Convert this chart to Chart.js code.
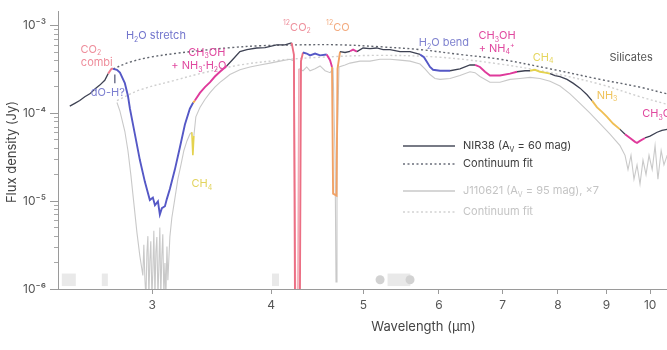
<!DOCTYPE html>
<html><head><meta charset="utf-8">
<script src="https://cdn.jsdelivr.net/npm/chart.js@4.4.1/dist/chart.umd.min.js"></script>
<style>
html,body{margin:0;padding:0;overflow:hidden;background:#fff;width:667px;height:350px}
#wrap{width:792px;height:350px}
</style></head>
<body><div id="wrap"><canvas id="c" width="792" height="350"></canvas></div>
<script>
// ---------------- DATA ----------------
const nir38Wave = [
 2.458,2.488,2.518,2.549,2.580,2.612,2.643,2.675,
 2.697,2.719,2.730,2.755,2.775,2.808,2.829,2.843,
 2.877,2.912,2.948,2.983,3.005,3.020,3.042,3.056,
 3.071,3.094,3.109,3.131,3.169,3.208,3.247,3.286,
 3.313,3.326,3.367,3.408,3.449,3.491,3.534,3.592,
 3.647,3.709,3.772,3.862,3.941,4.053,4.136,4.203,
 4.226,4.237,4.288,4.299,4.320,4.359,4.394,4.448,
 4.502,4.575,4.612,4.634,4.646,4.685,4.696,4.725,
 4.782,4.840,4.876,4.922,4.995,5.080,5.163,5.243,
 5.332,5.462,5.596,5.733,5.788,5.830,5.873,5.916,
 6.017,6.164,6.314,6.469,6.548,6.627,6.708,6.789,
 6.956,7.126,7.248,7.389,7.479,7.570,7.662,7.755,
 7.850,7.945,8.042,8.179,8.299,8.440,8.585,8.689,
 8.795,8.902,9.010,9.142,9.298,9.411,9.525,9.641,
 9.688,9.758,9.877,9.997,10.17,10.29,10.42,10.60];
const nir38Flux = [
 1.21e-4,1.30e-4,1.40e-4,1.55e-4,1.67e-4,1.90e-4,2.10e-4,2.38e-4,
 2.84e-4,3.22e-4,3.22e-4,3.14e-4,2.91e-4,2.21e-4,1.59e-4,1.13e-4,
 5.80e-5,2.94e-5,1.65e-5,1.03e-5,1.10e-5,9.0e-6,9.95e-6,7.05e-6,
 8.34e-6,8.77e-6,1.07e-5,1.38e-5,2.29e-5,4.11e-5,7.46e-5,1.13e-4,
 1.33e-4,1.40e-4,1.71e-4,1.99e-4,2.26e-4,2.63e-4,2.98e-4,3.47e-4,
 4.14e-4,5.06e-4,5.33e-4,5.56e-4,5.60e-4,6.04e-4,6.04e-4,6.35e-4,
 4.69e-4,8e-7,8e-7,3.94e-4,4.94e-4,4.81e-4,4.58e-4,4.81e-4,
 4.58e-4,4.69e-4,4.04e-4,3.38e-4,1.22e-5,1.16e-5,3.22e-4,5.06e-4,
 4.94e-4,5.10e-4,5.33e-4,5.06e-4,5.56e-4,5.46e-4,5.56e-4,5.33e-4,
 5.33e-4,5.06e-4,5.06e-4,4.69e-4,4.36e-4,3.84e-4,3.38e-4,3.14e-4,
 3.06e-4,3.06e-4,3.22e-4,3.56e-4,3.56e-4,3.38e-4,2.98e-4,2.70e-4,
 2.70e-4,2.84e-4,2.98e-4,3.06e-4,3.06e-4,3.14e-4,2.98e-4,2.91e-4,
 2.84e-4,2.70e-4,2.63e-4,2.44e-4,2.21e-4,1.94e-4,1.63e-4,1.40e-4,
 1.17e-4,1.04e-4,9.13e-5,7.66e-5,6.58e-5,5.80e-5,5.25e-5,4.74e-5,
 4.62e-5,4.86e-5,5.25e-5,5.52e-5,6.10e-5,6.42e-5,6.58e-5,6.80e-5];

const j110621Wave = [
 2.755,2.775,2.808,2.829,2.849,2.870,2.891,2.912,
 2.933,2.940,2.948,2.955,2.962,2.969,2.976,2.983,
 2.990,2.998,3.005,3.012,3.020,3.027,3.034,3.042,
 3.049,3.056,3.063,3.071,3.078,3.086,3.094,3.101,
 3.109,3.116,3.131,3.146,3.169,3.192,3.216,3.239,
 3.263,3.286,3.302,3.310,3.318,3.334,3.367,3.408,
 3.449,3.491,3.534,3.577,3.620,3.709,3.800,3.893,
 3.988,4.086,4.186,4.226,4.242,4.267,4.278,4.320,
 4.359,4.394,4.448,4.502,4.557,4.612,4.646,4.668,
 4.679,4.690,4.713,4.782,4.840,4.959,5.080,5.205,
 5.332,5.462,5.596,5.733,5.802,5.873,5.944,6.017,
 6.164,6.314,6.469,6.548,6.627,6.789,6.956,7.126,
 7.300,7.479,7.662,7.850,8.042,8.239,8.440,8.647,
 8.859,9.075,9.298,9.411,9.479,9.548,9.617,9.688,
 9.758,9.829,9.901,9.973,10.05,10.12,10.19,10.27,
 10.34,10.42,10.60];
const j110621Flux = [
 1.33e-4,1.06e-4,6.26e-5,3.78e-5,2.01e-5,9.46e-6,4.44e-6,2.37e-6,
 1.43e-6,3.2e-6,1.26e-6,8e-7,2.6e-6,4.0e-6,8e-7,2.09e-6,
 3.5e-6,8e-7,1.62e-6,4.6e-6,8e-7,2.68e-6,3.9e-6,8e-7,
 1.84e-6,5.0e-6,8e-7,2.37e-6,4.2e-6,8e-7,1.98e-6,8e-7,
 3.04e-6,1.26e-6,3.92e-6,6.48e-6,1.07e-5,1.78e-5,2.59e-5,3.78e-5,
 4.86e-5,5.80e-5,6.10e-5,3.33e-5,5.52e-5,9.13e-5,1.17e-4,1.44e-4,
 1.71e-4,1.99e-4,2.26e-4,2.50e-4,2.77e-4,3.14e-4,3.38e-4,3.56e-4,
 3.74e-4,3.94e-4,4.14e-4,3.94e-4,8e-7,8e-7,3.22e-4,3.06e-4,
 3.38e-4,3.06e-4,3.22e-4,3.47e-4,3.06e-4,2.91e-4,3.22e-4,3.33e-5,
 1.20e-6,3.33e-5,3.38e-4,3.56e-4,3.74e-4,3.94e-4,3.94e-4,4.14e-4,
 4.14e-4,4.04e-4,3.94e-4,3.65e-4,3.22e-4,2.77e-4,2.50e-4,2.44e-4,
 2.50e-4,2.70e-4,2.98e-4,2.91e-4,2.63e-4,2.26e-4,2.26e-4,2.44e-4,
 2.50e-4,2.57e-4,2.50e-4,2.32e-4,2.05e-4,1.67e-4,1.30e-4,1.01e-4,
 7.66e-5,5.80e-5,4.29e-5,3.33e-5,2.29e-5,3.33e-5,1.78e-5,2.59e-5,
 1.57e-5,2.94e-5,2.01e-5,3.33e-5,2.29e-5,4.29e-5,1.78e-5,3.78e-5,
 2.59e-5,3.33e-5,3.60e-5];

const nirContWave = [2.730,2.843,2.983,3.169,3.367,3.620,3.893,4.288,4.725,5.205,5.733,6.314,6.956,7.850,8.859,9.758,10.42,11.0];
const nirContFlux = [3.22e-4,3.84e-4,4.36e-4,4.81e-4,5.19e-4,5.60e-4,5.89e-4,6.04e-4,6.04e-4,5.74e-4,5.33e-4,4.69e-4,4.14e-4,3.22e-4,2.44e-4,1.99e-4,1.67e-4,1.48e-4];
const jContWave = [2.755,2.912,3.169,3.367,3.709,4.086,4.502,5.205,6.017,6.956,7.850,8.859,9.758,10.42,11.0];
const jContFlux = [1.40e-4,1.85e-4,2.38e-4,2.84e-4,3.56e-4,4.04e-4,4.36e-4,4.58e-4,4.36e-4,3.65e-4,2.91e-4,2.15e-4,1.55e-4,1.27e-4,1.10e-4];

// absorption bands highlighted on each spectrum (wavelength ranges, µm)
const nirBandStart = [2.695,2.730,3.300,3.320,4.190,4.330,4.585,4.625,4.850,5.740,6.540,7.460,8.690,9.420];
const nirBandEnd   = [2.730,3.300,3.320,3.600,4.330,4.585,4.625,4.715,4.910,6.180,7.260,7.860,9.240,9.900];
const nirBandName  = ['CO2combi','H2O','CH4a','CH3OH','CO2','H2O','CH3OH','CO','CH3OH','H2O','CH3OH','CH4','NH3','CH3OH'];
const jBandStart = [3.300,4.210];
const jBandEnd   = [3.320,4.290];
const jBandName  = ['CH4','CO2light'];

// data-gap markers along the bottom
const gapStart = [2.411,2.656,4.008,5.300];
const gapEnd   = [2.494,2.695,4.076,5.600];
const gapDots  = [5.205,5.596];
const gapLow = 1.08e-6, gapHigh = 1.50e-6;

// annotations
const labelText = ['H_{2}O stretch','CO_{2}','combi','dO-H?','CH_{3}OH','+ NH_{3}\u00b7H_{2}O','CH_{4}','^{12}CO_{2}','^{12}CO','H_{2}O bend','CH_{3}OH','+ NH_{4}^{+}','CH_{4}','Silicates','NH_{3}','CH_{3}OH'];
const labelWave = [3.027,2.587,2.624,2.695,3.424,3.359,3.383,4.257,4.700,6.074,6.906,6.900,7.720,9.550,9.010,9.810];
const labelFlux = [7.58e-4,5.33e-4,3.74e-4,1.71e-4,4.94e-4,3.47e-4,1.57e-5,9.5e-4,9.5e-4,6.35e-4,7.58e-4,5.46e-4,4.36e-4,4.36e-4,1.59e-4,9.85e-5];
const markWave = [2.741], markTop = [2.77e-4], markBottom = [2.21e-4];

// axes
const xTickValues = [3,4,5,6,7,8,9,10];
const yMajorTicks = [1e-6,1e-5,1e-4,1e-3];
const yTickLabels = ['10\u207b\u2076','10\u207b\u2075','10\u207b\u2074','10\u207b\u00b3'];
const X_MIN = 2.389, X_MAX = 13.99, Y_MIN = 1e-6, Y_MAX = 1.459e-3;

// ---------------- STYLE ----------------
const FONT = "Inter, 'Noto Sans', sans-serif";
const BASE = '#3e4253', GREY = '#c9c9c9';
const bandColors = {CO2combi:'#ec7a8e',H2O:'#5558c6',CH4a:'#f2a640',CH3OH:'#df3a9b',CO2:'#ec6f84',CO:'#f1a266',CH4:'#e4d24e',NH3:'#f0bf55',CO2light:'#f2a9b4'};
const labelColor = ['#7174cc','#ee8d9b','#ee8d9b','#7b7ed0','#e0489f','#e0489f','#e2d45e','#ee909c','#f3ab7f','#7f82cf','#e0489f','#e0489f','#e5d65e','#555555','#efc35c','#e0489f'];
const labelAlign = ['center','center','center','center','center','center','center','center','center','center','center','center','center','center','center','left'];

Chart.defaults.font.family = FONT;

const toXY = (w,f) => w.map((x,i)=>({x:x,y:f[i]}));
function bandOf(starts, ends, names, m){ for(let i=0;i<starts.length;i++){ if(m>=starts[i] && m<ends[i]) return names[i]; } return null; }
function segColor(starts, ends, names, base){ return c => { const b = bandOf(starts, ends, names, (c.p0.parsed.x+c.p1.parsed.x)/2); return b ? bandColors[b] : base; }; }
function segWidth(starts, ends, names, w0, w1){ return c => bandOf(starts, ends, names, (c.p0.parsed.x+c.p1.parsed.x)/2) ? w1 : w0; }

function drawRich(ctx, str, x, y, size, color, align){
  const parts = []; const re = /_\{([^}]*)\}|\^\{([^}]*)\}|([^_^]+)/g; let m;
  while((m = re.exec(str))){ if(m[1]!==undefined) parts.push({t:m[1],k:'sub'}); else if(m[2]!==undefined) parts.push({t:m[2],k:'sup'}); else parts.push({t:m[3],k:'n'}); }
  const fs = k => k==='n' ? size : Math.round(size*0.68);
  let total = 0;
  parts.forEach(p=>{ ctx.font = fs(p.k)+'px '+FONT; p.w = ctx.measureText(p.t).width; total += p.w; });
  let cx = align==='center' ? x-total/2 : (align==='right' ? x-total : x);
  ctx.fillStyle = color; ctx.textBaseline = 'middle'; ctx.textAlign = 'left';
  parts.forEach(p=>{ ctx.font = fs(p.k)+'px '+FONT; const dy = p.k==='sub' ? size*0.32 : (p.k==='sup' ? -size*0.38 : 0); ctx.fillText(p.t, cx, y+dy); cx += p.w; });
}

const decor = {
  id:'decor',
  beforeDatasetsDraw(chart){
    const {ctx, scales:{x,y}} = chart;
    ctx.save();
    ctx.fillStyle = '#e9e9e9';
    for(let i=0;i<gapStart.length;i++){
      const x0 = x.getPixelForValue(gapStart[i]), x1 = x.getPixelForValue(gapEnd[i]);
      const y0 = y.getPixelForValue(gapHigh), y1 = y.getPixelForValue(gapLow);
      ctx.fillRect(x0, y0, x1-x0, y1-y0);
    }
    ctx.fillStyle = '#d2d2d2';
    gapDots.forEach(w=>{ ctx.beginPath(); ctx.arc(x.getPixelForValue(w), y.getPixelForValue(Math.sqrt(gapLow*gapHigh)), 4.5, 0, Math.PI*2); ctx.fill(); });
    ctx.restore();
  },
  afterDatasetsDraw(chart){
    const {ctx, scales:{x,y}} = chart;
    ctx.save();
    for(let i=0;i<labelText.length;i++){
      drawRich(ctx, labelText[i], x.getPixelForValue(labelWave[i]), y.getPixelForValue(labelFlux[i]), 11, labelColor[i], labelAlign[i]);
    }
    ctx.strokeStyle = '#4d5170'; ctx.lineWidth = 1.2;
    for(let i=0;i<markWave.length;i++){
      const px = x.getPixelForValue(markWave[i]);
      ctx.beginPath(); ctx.moveTo(px, y.getPixelForValue(markTop[i])); ctx.lineTo(px, y.getPixelForValue(markBottom[i])); ctx.stroke();
    }
    // y axis title
    ctx.translate(12, 152); ctx.rotate(-Math.PI/2);
    ctx.font = '13px '+FONT; ctx.fillStyle = '#444'; ctx.textAlign = 'center'; ctx.textBaseline = 'middle';
    ctx.fillText('Flux density (Jy)', 0, 0);
    ctx.restore();
  },
  afterDraw(chart){
    const ctx = chart.ctx;
    const rows = [
      {y:146, c:'#4a4e5c', d:[], t:'NIR38 (A_{V} = 60 mag)', tc:'#3c3c3c'},
      {y:164, c:'#6a6e7a', d:[2,2.5], t:'Continuum fit', tc:'#3c3c3c'},
      {y:191, c:'#c8c8c8', d:[], t:'J110621 (A_{V} = 95 mag), \u00d77', tc:'#c4c4c4'},
      {y:212, c:'#d2d2d2', d:[2,2.5], t:'Continuum fit', tc:'#c4c4c4'}
    ];
    ctx.save();
    rows.forEach(r=>{
      ctx.strokeStyle = r.c; ctx.lineWidth = 1.4; ctx.setLineDash(r.d);
      ctx.beginPath(); ctx.moveTo(403, r.y); ctx.lineTo(455, r.y); ctx.stroke();
      ctx.setLineDash([]);
      drawRich(ctx, r.t, 463, r.y, 11, r.tc, 'left');
    });
    ctx.restore();
  }
};

new Chart(document.getElementById('c'), {
  type:'line',
  data:{datasets:[
    {label:'NIR38', data:toXY(nir38Wave,nir38Flux), borderColor:BASE, borderWidth:1.3, pointRadius:0, tension:0,
     segment:{borderColor:segColor(nirBandStart,nirBandEnd,nirBandName,BASE), borderWidth:segWidth(nirBandStart,nirBandEnd,nirBandName,1.3,1.9)}},
    {label:'Continuum fit', data:toXY(nirContWave,nirContFlux), borderColor:'#62666f', borderDash:[2,2.5], borderWidth:1.4, pointRadius:0, tension:0.35},
    {label:'J110621', data:toXY(j110621Wave,j110621Flux), borderColor:GREY, borderWidth:1.1, pointRadius:0, tension:0,
     segment:{borderColor:segColor(jBandStart,jBandEnd,jBandName,GREY), borderWidth:segWidth(jBandStart,jBandEnd,jBandName,1.1,1.6)}},
    {label:'Continuum fit', data:toXY(jContWave,jContFlux), borderColor:'#d0d0d0', borderDash:[2,2.5], borderWidth:1.4, pointRadius:0, tension:0.35}
  ]},
  options:{
    responsive:false, animation:false, devicePixelRatio:1,
    layout:{padding:{top:0,right:3,left:0,bottom:0}},
    plugins:{legend:{display:false}, tooltip:{enabled:false}},
    scales:{
      x:{type:'logarithmic', min:X_MIN, max:X_MAX,
         afterBuildTicks:s=>{ s.ticks = xTickValues.map(v=>({value:v})); },
         ticks:{callback:(v,i)=>String(xTickValues[i]), color:'#555', font:{size:12}, padding:4, maxRotation:0, autoSkip:false},
         grid:{drawOnChartArea:false, tickLength:5, color:'#9a9a9a'},
         border:{color:'#9a9a9a'},
         title:{display:true, text:'Wavelength (\u00b5m)', color:'#444', font:{size:13}, padding:{top:0,bottom:15}},
         afterFit:s=>{ s.height = 61; }},
      y:{type:'logarithmic', position:'left', weight:1, min:Y_MIN, max:Y_MAX,
         afterBuildTicks:s=>{ s.ticks = yMajorTicks.map(v=>({value:v})); },
         ticks:{callback:(v,i)=>yTickLabels[i], color:'#555', font:{size:12}, padding:4, autoSkip:false},
         grid:{drawOnChartArea:false, tickLength:8, color:'#9a9a9a'},
         border:{color:'#9a9a9a'},
         afterFit:s=>{ s.width = 58; }},
      y2:{type:'logarithmic', position:'left', weight:0, min:Y_MIN, max:Y_MAX,
         afterBuildTicks:s=>{ const t=[]; yMajorTicks.slice(0,3).forEach(d=>{ for(let k=2;k<=9;k++){ const v=d*k; if(v<=Y_MAX) t.push({value:v}); } }); s.ticks = t; },
         ticks:{display:false},
         grid:{drawOnChartArea:false, tickLength:4, color:'#a8a8a8'},
         border:{display:false},
         afterFit:s=>{ s.width = 0; }}
    }
  },
  plugins:[decor]
});
</script>
</body></html>
